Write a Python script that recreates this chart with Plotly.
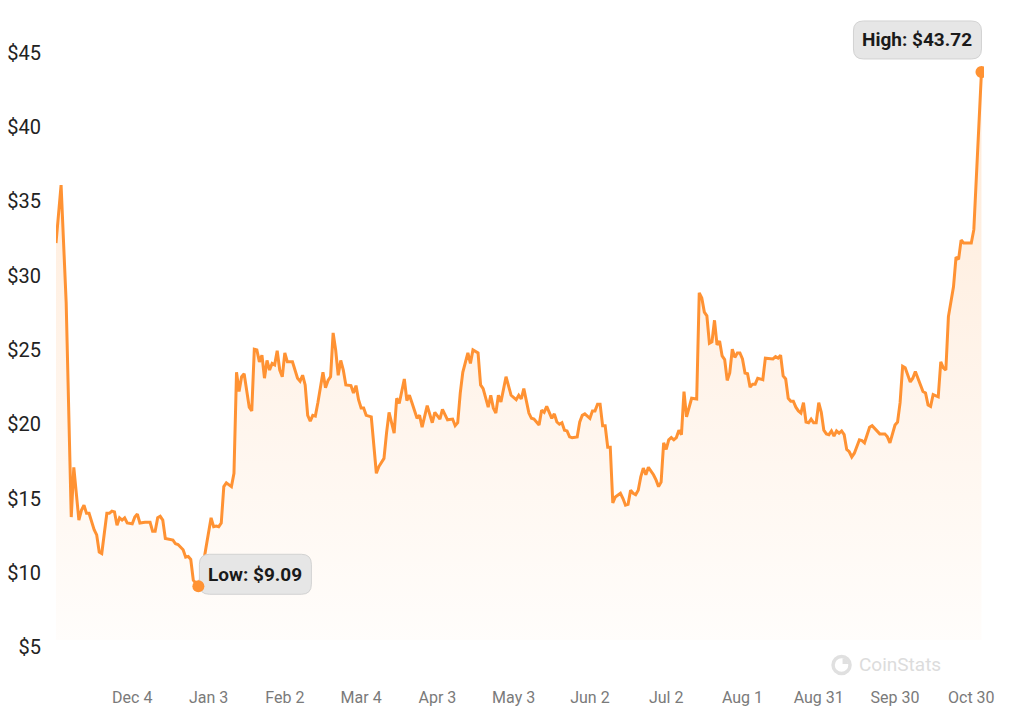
import pandas as pd
import plotly.graph_objects as go

# ---------------- data ----------------
START = "2024-11-04"
DAY = [0, 1, 2, 4, 6, 7, 9, 10, 11, 12, 13, 15, 16, 17, 18, 20, 21, 22, 23, 24, 25, 26, 27, 28, 30,
       31, 32, 33, 34, 35, 37, 38, 39, 40, 41, 42, 43, 45, 46, 47, 48, 50, 51, 52, 53, 54, 55, 56, 57,
       58, 59, 61, 62, 63, 64, 65, 66, 67, 68, 69, 70, 71, 72, 73, 74, 76, 77, 78, 79, 80, 81, 82, 83,
       84, 85, 86, 87, 88, 89, 90, 91, 93, 95, 96, 97, 98, 99, 100, 101, 102, 103, 105, 106, 107, 108,
       109, 110, 111, 112, 113, 114, 116, 117, 118, 119, 120, 121, 122, 124, 125, 126, 127, 129, 130,
       131, 133, 134, 135, 137, 138, 139, 140, 142, 143, 144, 146, 148, 149, 151, 152, 154, 156, 157,
       158, 159, 160, 162, 163, 164, 166, 167, 168, 170, 171, 172, 173, 174, 175, 176, 177, 179, 181,
       182, 183, 184, 185, 186, 187, 188, 190, 191, 192, 193, 194, 195, 196, 197, 198, 199, 200, 201,
       202, 203, 205, 206, 207, 208, 210, 211, 212, 213, 214, 215, 216, 217, 218, 219, 220, 222, 223,
       224, 225, 226, 227, 228, 229, 230, 231, 232, 233, 235, 236, 237, 238, 239, 240, 241, 242, 243,
       244, 245, 246, 247, 248, 249, 250, 252, 253, 254, 255, 256, 257, 258, 259, 260, 261, 262, 263,
       264, 265, 266, 267, 268, 269, 270, 271, 272, 273, 274, 275, 276, 278, 279, 280, 282, 283, 284,
       285, 286, 287, 288, 289, 290, 291, 292, 293, 294, 295, 296, 297, 298, 299, 300, 301, 302, 303,
       304, 305, 306, 307, 308, 309, 310, 311, 312, 313, 314, 316, 317, 318, 320, 321, 323, 324, 326,
       327, 328, 330, 331, 332, 333, 334, 336, 337, 338, 339, 341, 342, 343, 344, 345, 347, 348, 349,
       350, 351, 352, 353, 354, 355, 356, 357, 358, 360, 361, 362, 363, 364]
PRICE = [32.2, 34.1, 36.1, 28.2, 13.75, 17.1, 13.55, 14.2, 14.55, 14.0, 14.0, 12.9, 12.55, 11.4, 11.3,
         14.0, 14.0, 14.15, 14.1, 13.2, 13.7, 13.55, 13.7, 13.35, 13.3,
         13.75, 13.95, 13.35, 13.4, 13.4, 13.4, 12.8, 12.8, 13.7, 13.8, 13.55, 12.3, 12.2, 12.2, 11.95,
         11.9, 11.55, 11.05, 11.1, 10.9, 9.5, 9.25, 9.09, 9.65,
         10.85, 11.7, 13.7, 13.1, 13.15, 13.1, 13.35, 15.8, 16.05, 15.9, 15.8, 16.7, 23.5, 22.2, 23.2,
         23.4, 21.15, 20.9, 25.05, 25.0, 24.2, 24.65, 23.1, 24.3,
         23.65, 24.1, 24.0, 24.95, 23.65, 23.2, 24.8, 24.2, 24.2, 23.1, 22.9, 23.3, 22.65, 20.6, 20.2,
         20.6, 20.55, 21.45, 23.5, 22.45, 22.95, 23.2,
         26.15, 25.0, 23.3, 24.3, 23.65, 22.65, 22.6, 22.1, 22.6, 21.65, 21.1, 21.1, 20.6, 20.5, 18.45,
         16.7, 17.15, 17.7, 19.4,
         20.8, 19.4, 21.75, 21.4, 23.05, 21.6, 21.95, 21.45, 20.4, 20.6, 19.8, 21.25, 20.1, 20.8, 20.35,
         21.0, 20.3, 20.35, 19.9,
         20.1, 22.1, 23.5, 24.8, 24.1, 25.0, 24.8, 22.65, 22.4, 21.15, 21.95, 21.1, 20.75, 21.95, 21.5,
         22.3, 23.2, 21.95, 21.65,
         21.95, 21.7, 22.4, 21.65, 20.75, 20.4, 20.35, 19.95, 20.95, 20.8, 21.2, 20.8, 20.4, 20.7, 20.15,
         20.0, 20.1, 19.6, 19.55,
         19.15, 19.1, 19.15, 20.15, 20.6, 20.7, 20.4, 20.9, 20.9, 21.35, 21.35, 19.9, 19.9, 18.45, 18.45,
         14.7, 15.1, 15.35, 15.0,
         14.55, 14.6, 15.55, 15.35, 15.25, 15.55, 16.45, 17.05, 16.6, 17.1, 16.6, 16.25, 15.8, 16.1,
         18.75, 18.3, 18.95, 19.1, 18.95,
         19.1, 19.6, 19.3, 22.2, 20.5, 21.1, 21.75, 21.7, 28.85, 28.5, 27.55, 27.3, 25.45, 25.55, 27.0,
         25.35, 25.6, 24.6, 24.35,
         22.95, 23.45, 25.05, 24.5, 24.8, 24.8, 24.4, 23.45, 23.4, 22.5, 22.7, 22.7, 23.1, 23.0, 24.45,
         24.45, 24.4, 24.55, 24.45,
         24.65, 23.25, 23.05, 21.75, 21.55, 21.55, 21.15, 20.9, 20.75, 21.45, 20.15, 20.1, 20.35, 20.1,
         20.1, 21.45, 20.8, 19.6, 19.35,
         19.3, 19.55, 19.2, 19.55, 19.4, 19.55, 19.3, 18.3, 18.15, 17.8, 18.05, 18.95, 18.9, 18.75, 19.8,
         19.9, 19.55, 19.35, 19.35,
         19.15, 18.75, 19.95, 20.15, 21.45, 23.9, 23.8, 22.85, 23.1, 23.55, 23.1, 22.2, 22.1, 21.3, 21.2,
         22.0, 21.85, 24.2, 23.8,
         23.65, 27.25, 28.35, 29.25, 31.25, 31.1, 32.4, 32.2, 32.2, 32.2, 33.1, 36.65, 40.5, 43.72]

TICK_DATES = ["2024-12-04", "2025-01-03", "2025-02-02", "2025-03-04", "2025-04-03", "2025-05-03",
              "2025-06-02", "2025-07-02", "2025-08-01", "2025-08-31", "2025-09-30", "2025-10-30"]
TICK_LABELS = ["Dec 4", "Jan 3", "Feb 2", "Mar 4", "Apr 3", "May 3",
               "Jun 2", "Jul 2", "Aug 1", "Aug 31", "Sep 30", "Oct 30"]
Y_TICKS = [5, 10, 15, 20, 25, 30, 35, 40, 45]
Y_LABELS = ["$5", "$10", "$15", "$20", "$25", "$30", "$35", "$40", "$45"]

# ---------------- style ----------------
ORANGE = "#FF9233"
FONT = "Roboto"
BASE = 5.47          # bottom edge of the area fill
Y_RANGE = [4.125, 47.22]
WM_X, WM_Y = 0.8465, -0.0078   # watermark logo position (paper)
WM_TEXT_X = 0.909

dates = pd.Timestamp(START) + pd.to_timedelta(DAY, unit="D")
prices = pd.Series(PRICE, index=dates)
hi_date, hi_val = prices.idxmax(), prices.max()
lo_date, lo_val = prices.idxmin(), prices.min()
x_end = dates[-1] + pd.Timedelta(days=1)


def rrect(x0, x1, y0, y1, r):
    return (f"M {x0 + r},{y0} L {x1 - r},{y0} Q {x1},{y0} {x1},{y0 + r} "
            f"L {x1},{y1 - r} Q {x1},{y1} {x1 - r},{y1} L {x0 + r},{y1} "
            f"Q {x0},{y1} {x0},{y1 - r} L {x0},{y0 + r} Q {x0},{y0} {x0 + r},{y0} Z")


fig = go.Figure()
fig.add_trace(go.Scatter(x=dates, y=[BASE] * len(dates), mode="lines",
                         line=dict(width=0, color="rgba(0,0,0,0)"), hoverinfo="skip",
                         showlegend=False))
fig.add_trace(go.Scatter(
    x=dates, y=PRICE, mode="lines", fill="tonexty",
    line=dict(color=ORANGE, width=3, shape="linear"),
    fillgradient=dict(type="vertical", start=BASE, stop=45,
                      colorscale=[[0, "rgba(255,146,51,0.02)"], [1, "rgba(255,146,51,0.20)"]]),
    showlegend=False, hoverinfo="x+y"))

shapes = []
# label boxes (rounded, positioned in pixels relative to the extreme points)
shapes.append(dict(type="path", xref="x", yref="y", xsizemode="pixel", ysizemode="pixel",
                   xanchor=hi_date, yanchor=hi_val, path=rrect(-128, 0, 13, 51, 10),
                   fillcolor="#E6E6E6", line=dict(color="#D2D2D2", width=1), layer="above"))
shapes.append(dict(type="path", xref="x", yref="y", xsizemode="pixel", ysizemode="pixel",
                   xanchor=lo_date, yanchor=lo_val, path=rrect(1, 113, -8, 32, 10),
                   fillcolor="#E6E6E6", line=dict(color="#D2D2D2", width=1), layer="above"))
# marker dots
for d, v in [(hi_date, hi_val), (lo_date, lo_val)]:
    shapes.append(dict(type="circle", xref="x", yref="y", xsizemode="pixel", ysizemode="pixel",
                       xanchor=d, yanchor=v, x0=-6, x1=6, y0=-6, y1=6,
                       fillcolor=ORANGE, line=dict(width=0), layer="above"))
# watermark logo (ring + wedge)
shapes.append(dict(type="circle", xref="paper", yref="paper", xsizemode="pixel", ysizemode="pixel",
                   xanchor=WM_X, yanchor=WM_Y, x0=-8.5, x1=8.5, y0=-8.5, y1=8.5,
                   fillcolor="rgba(0,0,0,0)", line=dict(color="#E0E0E0", width=3.5), layer="above"))
shapes.append(dict(type="path", xref="paper", yref="paper", xsizemode="pixel", ysizemode="pixel",
                   xanchor=WM_X, yanchor=WM_Y, path="M 1,1 L 1,6.5 Q 6.5,6.5 6.5,1 Z",
                   fillcolor="#E0E0E0", line=dict(width=0), layer="above"))

annotations = [
    dict(x=hi_date, y=hi_val, xref="x", yref="y", text=f"<b>High: ${hi_val:.2f}</b>",
         showarrow=False, xshift=-64, yshift=32, xanchor="center", yanchor="middle",
         font=dict(family=FONT, size=19, color="#1A1A1A")),
    dict(x=lo_date, y=lo_val, xref="x", yref="y", text=f"<b>Low: ${lo_val:.2f}</b>",
         showarrow=False, xshift=57, yshift=12, xanchor="center", yanchor="middle",
         font=dict(family=FONT, size=19, color="#1A1A1A")),
    dict(x=WM_TEXT_X, y=WM_Y, xref="paper", yref="paper", text="CoinStats", showarrow=False,
         xanchor="center", yanchor="middle",
         font=dict(family=FONT, size=19, color="#DCDCDC")),
]

fig.update_layout(
    width=1024, height=723,
    margin=dict(l=56, r=40, t=20, b=63, autoexpand=False),
    paper_bgcolor="white", plot_bgcolor="white",
    font=dict(family=FONT),
    shapes=shapes, annotations=annotations,
    showlegend=False,
    xaxis=dict(type="date", range=[dates[0], x_end], showgrid=False, zeroline=False,
               showline=False, ticks="", tickvals=TICK_DATES, ticktext=TICK_LABELS,
               tickfont=dict(family=FONT, size=16, color="#7A7A7A"), ticklabelstandoff=26,
               automargin=False, fixedrange=True),
    yaxis=dict(range=Y_RANGE, showgrid=False, zeroline=False, showline=False, ticks="",
               tickvals=Y_TICKS, ticktext=Y_LABELS,
               tickfont=dict(family=FONT, size=20, color="#222222"), ticklabelstandoff=14,
               automargin=False, fixedrange=True),
)

fig.write_html("out.html", config={"displayModeBar": False})
